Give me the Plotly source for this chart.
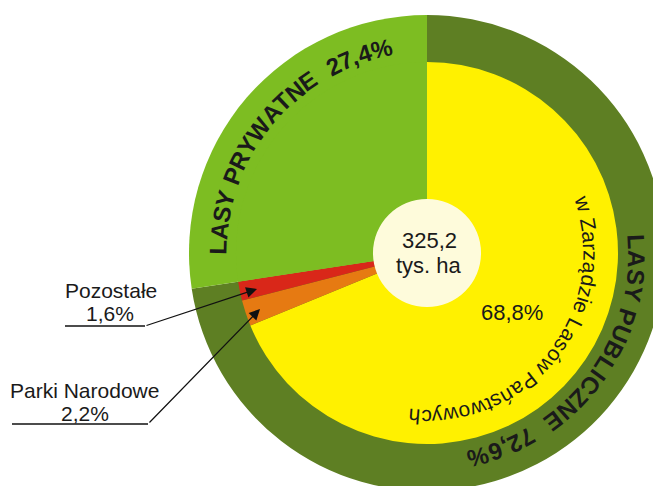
import math
import plotly.graph_objects as go

W, H = 661, 486
OFF = 8  # page body margin: figure starts 8px into the window

# ---- data ----
TOTAL = 325.2
TOTAL_UNIT = "tys. ha"
OUTER_LABELS = ["LASY PUBLICZNE", "LASY PRYWATNE"]
OUTER_VALUES = [72.6, 27.4]
INNER_LABELS = ["w Zarządzie Lasów Państwowych", "Parki Narodowe", "Pozostałe", "LASY PRYWATNE"]
INNER_VALUES = [68.8, 2.2, 1.6, 27.4]

OUTER_COLORS = ["#5e7f23", "#7dbd22"]
INNER_COLORS = ["#fff100", "#e67a12", "#d92719", "#7dbd22"]
CREAM = "#fefbdb"
FONT = "Liberation Sans, Arial, sans-serif"
TXT = "#1a1a1a"


def pct(v):
    return f"{v:.1f}".replace(".", ",") + "%"


def fx(x):
    return (x - OFF) / W


def fy(y):
    return 1 - (y - OFF) / H


# geometry (window pixels)
CX, CY = 427.0, 253.0
R_OUT = 238.0
R_IN = 191.0
R_HOLE = 54.0


def dom(r):
    return dict(x=[max(0.0, fx(CX - r)), min(1.0, fx(CX + r))],
                y=[max(0.0, fy(CY + r)), min(1.0, fy(CY - r))])


fig = go.Figure()
fig.add_trace(go.Pie(values=OUTER_VALUES, labels=OUTER_LABELS, sort=False,
                     direction="clockwise", rotation=0, domain=dom(R_OUT),
                     marker=dict(colors=OUTER_COLORS, line=dict(width=0)),
                     textinfo="none", hoverinfo="skip", showlegend=False))
fig.add_trace(go.Pie(values=INNER_VALUES, labels=INNER_LABELS, sort=False,
                     direction="clockwise", rotation=0, domain=dom(R_IN),
                     marker=dict(colors=INNER_COLORS, line=dict(width=0)),
                     textinfo="none", hoverinfo="skip", showlegend=False))
fig.add_trace(go.Pie(values=[TOTAL], labels=["total"], sort=False,
                     domain=dom(R_HOLE),
                     marker=dict(colors=[CREAM], line=dict(width=0)),
                     textinfo="none", hoverinfo="skip", showlegend=False))

BOLD_W = {"A": .722, "B": .722, "C": .722, "E": .667, "I": .278, "L": .611,
          "N": .722, "P": .667, "R": .722, "S": .667, "T": .611, "U": .722,
          "W": .944, "Y": .667, "Z": .611, " ": .278, ",": .278, "%": .889}
REG_W = {"a": .556, "c": .5, "d": .556, "e": .556, "h": .556, "i": .222,
         "n": .556, "o": .556, "s": .5, "t": .278, "w": .722, "y": .5,
         "z": .5, "ą": .556, "ó": .556, "ń": .556, "L": .556, "P": .667,
         "Z": .611, " ": .278, "r": .333}

annotations = []


def arc_text(text, a0, a1, r, size, bold):
    table = BOLD_W if bold else REG_W
    widths = [table.get(ch, .556) for ch in text]
    cum, s = [], 0.0
    for w in widths:
        cum.append(s + w / 2)
        s += w
    c0, c1 = cum[0], cum[-1]
    for ch, c in zip(text, cum):
        if ch == " ":
            continue
        ang = a0 + (a1 - a0) * (c - c0) / (c1 - c0)
        t = math.radians(ang)
        px = CX + r * math.sin(t)
        py = CY - r * math.cos(t)
        rot = ((ang + 180) % 360) - 180
        annotations.append(dict(
            x=fx(px), y=fy(py), xref="paper", yref="paper",
            text=f"<b>{ch}</b>" if bold else ch, showarrow=False,
            textangle=rot, xanchor="center", yanchor="middle",
            font=dict(size=size, family=FONT, color=TXT)))


arc_text(f"{OUTER_LABELS[1]}  {pct(OUTER_VALUES[1])}", 271.5, 347.5, 209, 24, True)
arc_text(f"{OUTER_LABELS[0]}  {pct(OUTER_VALUES[0])}", 87, 166, 210, 24, True)
arc_text(INNER_LABELS[0], 72.5, 184.5, 164, 21, False)


def label(text, x, y, size):
    annotations.append(dict(x=fx(x), y=fy(y), xref="paper", yref="paper",
                            text=text, showarrow=False, xanchor="center",
                            yanchor="middle",
                            font=dict(size=size, family=FONT, color=TXT)))


total_txt = f"{TOTAL:.1f}".replace(".", ",")
label(total_txt, 429, 240, 22)
label(TOTAL_UNIT, 429, 265, 22)
label(pct(INNER_VALUES[0]), 512, 312, 22)
label(INNER_LABELS[2], 111, 290, 21)
label(pct(INNER_VALUES[2]), 110, 313, 21)
label(INNER_LABELS[1], 84, 390, 21)
label(pct(INNER_VALUES[1]), 85, 413, 21)


def arrow(tip, start):
    annotations.append(dict(x=fx(tip[0]), y=fy(tip[1]), xref="paper",
                            yref="paper", ax=start[0] - tip[0],
                            ay=start[1] - tip[1], axref="pixel", ayref="pixel",
                            text="", showarrow=True, arrowhead=2,
                            arrowsize=1.8, arrowwidth=1.2, arrowcolor="#111",
                            standoff=0))


arrow((257, 289), (145, 326))
arrow((260, 309), (148, 424))

shapes = [
    dict(type="line", xref="paper", yref="paper", x0=fx(65), x1=fx(145),
         y0=fy(326), y1=fy(326), line=dict(color="#111", width=1.3)),
    dict(type="line", xref="paper", yref="paper", x0=fx(12), x1=fx(148),
         y0=fy(424), y1=fy(424), line=dict(color="#111", width=1.3)),
]

fig.update_layout(width=W, height=H, margin=dict(l=0, r=0, t=0, b=0),
                  paper_bgcolor="white", plot_bgcolor="white",
                  annotations=annotations, shapes=shapes, showlegend=False)

fig.write_html("out.html")
